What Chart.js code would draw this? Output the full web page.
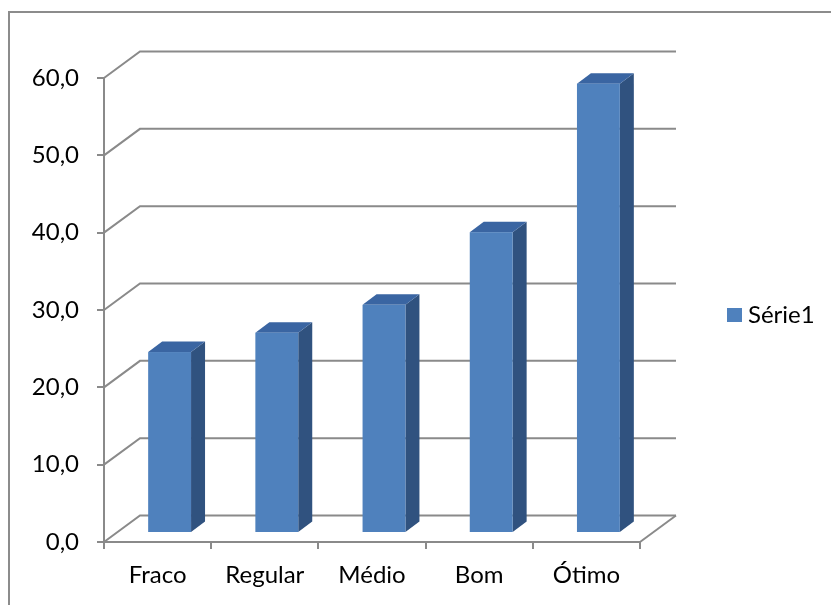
<!DOCTYPE html>
<html>
<head>
<meta charset="utf-8">
<script src="https://cdn.jsdelivr.net/npm/chart.js@4.4.1/dist/chart.umd.min.js"></script>
<style>
  html, body { margin: 0; padding: 0; background: #fff; overflow: hidden; }
  #wrap { position: relative; width: 831px; height: 605px; }
  #frame { position: absolute; left: 8px; top: 11px; width: 900px; height: 700px;
           border-left: 2px solid #8c8c8c; border-top: 2px solid #8c8c8c; pointer-events: none; }
  canvas { position: absolute; left: 0; top: 0; }
</style>
</head>
<body>
<div id="wrap">
  <canvas id="c" width="831" height="605"></canvas>
  <div id="frame"></div>
</div>
<script>
// Avaliação por categoria (%)
const categories = ['Fraco', 'Regular', 'Médio', 'Bom', 'Ótimo'];
const serie1 = [23.4, 25.9, 29.5, 38.9, 58.1];
const seriesName = 'Série1';
const yTicks = [0, 10, 20, 30, 40, 50, 60];

const FONT = 'Lato';
const FSIZE = 24;
const GRID = '#8a8a8a';

// oblique depth of the back wall and of the columns
const WALL = { dx: 36, dy: -26.5 };
const BAR_FRONT = { dx: 12, dy: -9 };
const BAR_DEPTH = { dx: 14, dy: -10.5 };
const COLORS = { front: '#4f81bd', top: '#3a65a2', side: '#30527f' };

const fmt = v => v.toFixed(1).replace('.', ',');

const wallPlugin = {
  id: 'wall3d',
  beforeDatasetsDraw(chart) {
    const { ctx, chartArea: a, scales: { y } } = chart;
    ctx.save();
    ctx.strokeStyle = GRID;
    ctx.lineWidth = 2;
    yTicks.forEach(v => {
      const py = y.getPixelForValue(v);
      ctx.beginPath();
      ctx.moveTo(a.left, py);
      ctx.lineTo(a.left + WALL.dx, py + WALL.dy);
      ctx.lineTo(a.right + WALL.dx, py + WALL.dy);
      ctx.stroke();
    });
    // right edge of the floor
    const p0 = y.getPixelForValue(0);
    ctx.beginPath();
    ctx.moveTo(a.right, p0);
    ctx.lineTo(a.right + WALL.dx, p0 + WALL.dy);
    ctx.stroke();
    ctx.restore();
  },
  beforeDatasetDraw(chart, args) {
    const { ctx } = chart;
    const meta = args.meta;
    ctx.save();
    meta.data.forEach(el => {
      const { x: cx, y: top, base, width } = el.getProps(['x', 'y', 'base', 'width'], true);
      const x0 = cx - width / 2 + BAR_FRONT.dx;
      const x1 = cx + width / 2 + BAR_FRONT.dx;
      const t = top + BAR_FRONT.dy;
      const b = base + BAR_FRONT.dy;
      // side face
      ctx.fillStyle = COLORS.side;
      ctx.beginPath();
      ctx.moveTo(x1, t);
      ctx.lineTo(x1 + BAR_DEPTH.dx, t + BAR_DEPTH.dy);
      ctx.lineTo(x1 + BAR_DEPTH.dx, b + BAR_DEPTH.dy);
      ctx.lineTo(x1, b);
      ctx.closePath();
      ctx.fill();
      // top face
      ctx.fillStyle = COLORS.top;
      ctx.beginPath();
      ctx.moveTo(x0, t);
      ctx.lineTo(x0 + BAR_DEPTH.dx, t + BAR_DEPTH.dy);
      ctx.lineTo(x1 + BAR_DEPTH.dx, t + BAR_DEPTH.dy);
      ctx.lineTo(x1, t);
      ctx.closePath();
      ctx.fill();
      // front face
      ctx.fillStyle = COLORS.front;
      ctx.fillRect(x0, t, x1 - x0, b - t);
    });
    ctx.restore();
    return false;
  },
  afterDraw(chart) {
    // legend
    const { ctx } = chart;
    ctx.save();
    ctx.fillStyle = COLORS.front;
    ctx.fillRect(727, 308, 15, 14);
    ctx.fillStyle = '#000';
    ctx.font = `${FSIZE}px ${FONT}`;
    ctx.textBaseline = 'middle';
    ctx.textAlign = 'left';
    ctx.fillText(chart.data.datasets[0].label, 748, 315);
    ctx.restore();
  }
};

new Chart(document.getElementById('c'), {
  type: 'bar',
  data: {
    labels: categories,
    datasets: [{
      label: seriesName,
      data: serie1,
      backgroundColor: COLORS.front,
      categoryPercentage: 1,
      barPercentage: 0.4
    }]
  },
  options: {
    responsive: false,
    animation: false,
    devicePixelRatio: 1,
    layout: { padding: { left: 0, right: 191, top: 78, bottom: 0 } },
    plugins: { legend: { display: false }, tooltip: { enabled: false } },
    scales: {
      x: {
        grid: { display: true, drawOnChartArea: false, drawTicks: true, tickLength: 7,
                color: GRID, lineWidth: 2, offset: true },
        border: { display: true, color: GRID, width: 2 },
        ticks: { color: '#000', font: { family: FONT, size: FSIZE }, padding: 12, maxRotation: 0 },
        afterFit: s => { s.height = 605 - 542; }
      },
      y: {
        min: 0, max: 60,
        grid: { display: true, drawOnChartArea: false, drawTicks: true, tickLength: 7,
                color: GRID, lineWidth: 2 },
        border: { display: true, color: GRID, width: 2 },
        ticks: { stepSize: 10, color: '#000', font: { family: FONT, size: FSIZE }, padding: 18,
                 callback: v => fmt(v) },
        afterFit: s => { s.width = 104; }
      }
    }
  },
  plugins: [wallPlugin]
});
</script>
</body>
</html>
